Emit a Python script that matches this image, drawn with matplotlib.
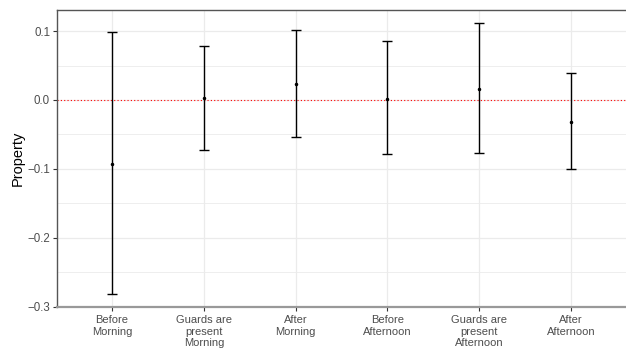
import numpy as np
import matplotlib.pyplot as plt

plt.rcParams['font.family'] = ['Liberation Sans', 'DejaVu Sans']

# values
labels = ['Before\nMorning', 'Guards are\npresent\nMorning', 'After\nMorning',
          'Before\nAfternoon', 'Guards are\npresent\nAfternoon', 'After\nAfternoon']
means = [-0.093, 0.0024, 0.023, 0.002, 0.016, -0.032]
lower = [-0.281, -0.073, -0.054, -0.079, -0.077, -0.100]
upper = [0.098, 0.079, 0.102, 0.085, 0.111, 0.039]

fig = plt.figure(figsize=(6.26, 3.49), dpi=100)
ax = fig.add_axes([57 / 626, 42 / 349, 1 - 57 / 626, 297 / 349])

x = np.arange(1, len(labels) + 1)
means = np.array(means)
yerr = [means - np.array(lower), np.array(upper) - means]

ax.errorbar(x, means, yerr=yerr, fmt='o', color='black', ms=1.5,
            elinewidth=1.0, capsize=3.4, capthick=1.0, zorder=3)
ax.axhline(0, color='red', linestyle=(0, (1, 2)), linewidth=0.8, zorder=2)

ax.set_xlim(0.4, 6.6)
ax.set_ylim(-0.3006, 0.1306)
ax.set_xticks(x)
ax.set_xticklabels(labels, fontsize=8, color='#4d4d4d', linespacing=1.15)
ax.set_yticks([0.1, 0.0, -0.1, -0.2, -0.3])
ax.set_yticklabels(['0.1', '0.0', '\u22120.1', '\u22120.2', '\u22120.3'],
                   fontsize=8.3, color='#4d4d4d')
ax.set_yticks([0.05, -0.05, -0.15, -0.25], minor=True)
ax.tick_params(axis='both', which='major', length=3, width=0.8, color='#333333', pad=2)
ax.tick_params(axis='x', which='major', pad=3)
ax.tick_params(axis='y', which='minor', length=0)

ax.grid(True, which='major', color='#ebebeb', linewidth=0.9)
ax.grid(True, which='minor', axis='y', color='#ebebeb', linewidth=0.6)
ax.set_axisbelow(True)

ax.set_ylabel('Property', fontsize=10.5, color='black', labelpad=2)

for side in ['top', 'left']:
    ax.spines[side].set_color('#555555')
    ax.spines[side].set_linewidth(1.0)
ax.spines['bottom'].set_color('#999999')
ax.spines['bottom'].set_linewidth(1.6)
ax.spines['right'].set_visible(False)

fig.savefig('out.png', dpi=100)
